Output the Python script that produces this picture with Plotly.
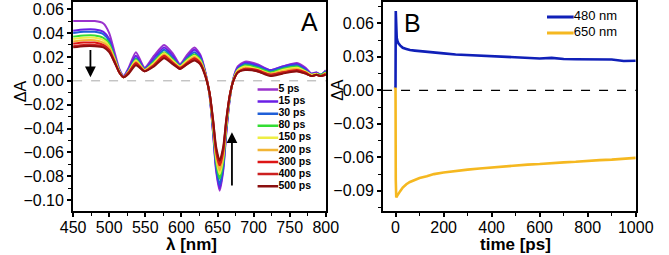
import plotly.graph_objects as go

# ---------------- Panel A data ----------------
wavelength = [450, 465, 480, 492, 500, 507, 514, 520, 527, 537, 549, 562, 576, 588, 598, 608, 618, 626,
              633, 639, 644, 648, 653, 658, 662, 667, 672, 678, 688, 705, 723, 740, 760, 772, 780, 787, 793, 800]

delays = ["5 ps", "15 ps", "30 ps", "80 ps", "150 ps", "200 ps", "300 ps", "400 ps", "500 ps"]
delay_colors = ["#9a32cd", "#6a1fe6", "#1f5fd8", "#33dd33", "#eeee44", "#f2b535", "#dd1515", "#cc2020", "#8b0f0f"]

dA_5ps = [.050, .050, .050, .048, .040, .025, .010, .004, .011, .024, .011, .021, .030, .023, .014, .022, .028, .022,
          .008, -.012, -.045, -.075, -.092, -.075, -.045, -.015, .002, .012, .016, .014, .009, .012, .015, .011, .006, .007, .005, .009]
dA_15ps = [.042, .043, .043, .041, .035, .022, .009, .004, .010, .021, .010, .019, .028, .021, .013, .020, .026, .021,
           .007, -.012, -.044, -.073, -.090, -.073, -.044, -.015, .002, .011, .015, .013, .009, .012, .014, .010, .006, .007, .005, .008]
dA_30ps = [.040, .041, .041, .039, .033, .021, .008, .003, .009, .019, .010, .017, .026, .019, .013, .019, .024, .019,
           .007, -.012, -.042, -.071, -.087, -.071, -.042, -.014, .001, .010, .014, .012, .008, .011, .013, .009, .005, .006, .005, .008]
dA_80ps = [.037, .038, .038, .036, .031, .020, .008, .003, .008, .018, .009, .016, .024, .018, .012, .018, .022, .018,
           .006, -.011, -.040, -.067, -.082, -.067, -.040, -.014, .001, .009, .013, .011, .007, .010, .012, .008, .005, .006, .005, .007]
dA_150ps = [.035, .036, .036, .034, .029, .019, .008, .003, .008, .017, .009, .015, .023, .017, .012, .017, .021, .017,
            .006, -.011, -.038, -.064, -.078, -.064, -.038, -.013, .001, .009, .012, .010, .006, .009, .011, .008, .005, .006, .004, .007]
dA_200ps = [.033, .034, .034, .032, .028, .018, .007, .003, .007, .016, .009, .014, .022, .016, .011, .016, .020, .016,
            .005, -.011, -.037, -.062, -.075, -.062, -.037, -.013, .000, .008, .011, .009, .006, .008, .010, .007, .004, .005, .004, .006]
dA_300ps = [.031, .032, .032, .030, .026, .017, .007, .003, .007, .015, .008, .013, .021, .015, .011, .015, .019, .015,
            .005, -.010, -.035, -.059, -.071, -.059, -.035, -.012, .000, .007, .010, .009, .005, .007, .009, .007, .004, .005, .004, .006]
dA_400ps = [.029, .030, .030, .029, .025, .016, .007, .003, .007, .014, .008, .013, .020, .015, .010, .014, .018, .014,
            .005, -.010, -.034, -.057, -.069, -.057, -.034, -.012, .000, .007, .010, .008, .005, .007, .008, .006, .004, .005, .004, .005]
dA_500ps = [.028, .029, .029, .028, .024, .016, .007, .003, .006, .013, .008, .012, .019, .014, .010, .014, .017, .014,
            .004, -.010, -.033, -.055, -.067, -.055, -.033, -.012, .000, .007, .009, .008, .004, .006, .008, .006, .004, .005, .004, .005]

spectra = [dA_5ps, dA_15ps, dA_30ps, dA_80ps, dA_150ps, dA_200ps, dA_300ps, dA_400ps, dA_500ps]

wl_ticks = [450, 500, 550, 600, 650, 700, 750, 800]
dA_ticks_A = [-0.10, -0.08, -0.06, -0.04, -0.02, 0.00, 0.02, 0.04, 0.06]

# ---------------- Panel B data ----------------
time_ps = [-3, 0, 1, 2, 3, 5, 8, 12, 20, 30, 45, 60, 80, 100, 130, 160, 200, 250, 300, 350, 400,
           450, 500, 550, 600, 650, 700, 750, 800, 850, 900, 950, 1000]
kin_480 = [0.002, 0.003, 0.071, 0.060, 0.052, 0.047, 0.044, 0.042, 0.040, 0.038, 0.037, 0.036, 0.0355, 0.035,
           0.0345, 0.0335, 0.033, 0.032, 0.0315, 0.031, 0.0305, 0.030, 0.0295, 0.029, 0.0285, 0.029, 0.028,
           0.0278, 0.0275, 0.0272, 0.0275, 0.0262, 0.0265]
kin_650 = [0.001, 0.002, -0.080, -0.094, -0.096, -0.095, -0.094, -0.093, -0.090, -0.087, -0.084, -0.082, -0.080,
           -0.0785, -0.077, -0.075, -0.0735, -0.072, -0.071, -0.070, -0.069, -0.068, -0.067, -0.0665, -0.066,
           -0.065, -0.0645, -0.064, -0.063, -0.0625, -0.062, -0.061, -0.0605]
kin_labels = ["480 nm", "650 nm"]
kin_colors = ["#1020b8", "#f5b820"]
time_ticks = [0, 200, 400, 600, 800, 1000]
dA_ticks_B = [-0.09, -0.06, -0.03, 0.00, 0.03, 0.06]

FONT = "Liberation Sans, Arial, sans-serif"

fig = go.Figure()

# Panel A spectra
for name, col, ys in zip(delays, delay_colors, spectra):
    fig.add_trace(go.Scatter(x=wavelength, y=ys, mode="lines", name=name,
                             line=dict(color=col, width=2, shape="spline", smoothing=0.6),
                             xaxis="x", yaxis="y", showlegend=False))

# Panel B kinetics
for name, col, ys in zip(kin_labels, kin_colors, [kin_480, kin_650]):
    fig.add_trace(go.Scatter(x=time_ps, y=ys, mode="lines", name=name,
                             line=dict(color=col, width=2.6),
                             xaxis="x2", yaxis="y2", showlegend=False))

# Legend A (mini axes)
for i, (name, col) in enumerate(zip(delays, delay_colors)):
    fig.add_trace(go.Scatter(x=[0, 1], y=[i, i], mode="lines", line=dict(color=col, width=2.5),
                             xaxis="x3", yaxis="y3", showlegend=False, hoverinfo="skip"))
fig.add_trace(go.Scatter(x=[1.0] * len(delays), y=list(range(len(delays))), mode="text", text=delays,
                         textposition="middle right", cliponaxis=False,
                         textfont=dict(family=FONT, size=10.5, color="black", weight="bold"),
                         xaxis="x3", yaxis="y3", showlegend=False, hoverinfo="skip"))

# Legend B (mini axes)
for i, (name, col) in enumerate(zip(kin_labels, kin_colors)):
    fig.add_trace(go.Scatter(x=[0, 1], y=[i, i], mode="lines", line=dict(color=col, width=3),
                             xaxis="x4", yaxis="y4", showlegend=False, hoverinfo="skip"))
fig.add_trace(go.Scatter(x=[1.0] * len(kin_labels), y=list(range(len(kin_labels))), mode="text", text=kin_labels,
                         textposition="middle right", cliponaxis=False,
                         textfont=dict(family=FONT, size=13, color="black"),
                         xaxis="x4", yaxis="y4", showlegend=False, hoverinfo="skip"))

axis_common = dict(showline=True, linecolor="black", linewidth=2, mirror=True, ticks="outside",
                   ticklen=4, tickwidth=1.5, tickcolor="black", showgrid=False, zeroline=False,
                   tickfont=dict(family=FONT, size=16, color="black"),
                   minor=dict(ticks="outside", ticklen=3, tickwidth=1, tickcolor="black"))

fig.update_layout(
    width=669, height=255, margin=dict(l=0, r=0, t=1, b=44),
    paper_bgcolor="white", plot_bgcolor="white",
    xaxis=dict(domain=[0.0942, 0.4903], range=[450, 800], tickvals=wl_ticks, anchor="y",
               minor_dtick=25, ticklabelstandoff=-3, **axis_common),
    yaxis=dict(domain=[0, 1], range=[-0.109, 0.066], tickvals=dA_ticks_A, tickformat=".2f", anchor="x",
               minor_dtick=0.01, **axis_common),
    xaxis2=dict(domain=[0.5800, 0.9761], range=[-52, 1000], tickvals=time_ticks, anchor="y2",
                minor_dtick=100, ticklabelstandoff=-3, **axis_common),
    yaxis2=dict(domain=[0, 1], range=[-0.108, 0.079], tickvals=dA_ticks_B, tickformat=".2f", anchor="x2",
                minor_dtick=0.015, **axis_common),
    xaxis3=dict(domain=[0.383, 0.416], range=[0, 1], visible=False, anchor="y3"),
    yaxis3=dict(domain=[0.090, 0.610], range=[8.5, -0.5], visible=False, anchor="x3"),
    xaxis4=dict(domain=[0.837, 0.879], range=[0, 1], visible=False, anchor="y4"),
    yaxis4=dict(domain=[0.814, 0.967], range=[1.5, -0.5], visible=False, anchor="x4"),
    shapes=[
        dict(type="line", xref="x domain", yref="y", x0=0, x1=1, y0=0, y1=0,
             line=dict(color="#aaaaaa", width=1, dash="dash"), layer="below"),
        dict(type="line", xref="x2 domain", yref="y2", x0=0, x1=1, y0=0, y1=0,
             line=dict(color="black", width=1.2, dash="dash"), layer="below"),
    ],
    annotations=[
        dict(text="A", xref="paper", yref="paper", x=311 / 669, y=(211 - 21) / 210, showarrow=False,
             font=dict(family=FONT, size=25, color="black"), xanchor="center", yanchor="middle"),
        dict(text="B", xref="paper", yref="paper", x=419 / 669, y=(211 - 22) / 210, showarrow=False,
             font=dict(family=FONT, size=25, color="black"), xanchor="center", yanchor="middle"),
        dict(text="ΔA", xref="paper", yref="paper", x=8 / 669, y=(211 - 91) / 210, showarrow=False,
             textangle=-90, font=dict(family=FONT, size=16, color="black"), xanchor="center", yanchor="middle"),
        dict(text="ΔA", xref="paper", yref="paper", x=340 / 669, y=(211 - 89) / 210, showarrow=False,
             textangle=-90, font=dict(family=FONT, size=16, color="black"), xanchor="center", yanchor="middle"),
        dict(text="<b>λ [nm]</b>", xref="paper", yref="paper", x=187 / 669, y=(211 - 245) / 210, showarrow=False,
             font=dict(family=FONT, size=17, color="black"), xanchor="center", yanchor="middle"),
        dict(text="<b>time [ps]</b>", xref="paper", yref="paper", x=527 / 669, y=(211 - 245) / 210, showarrow=False,
             font=dict(family=FONT, size=17, color="black"), xanchor="center", yanchor="middle"),
        # arrows in panel A
        dict(xref="x", yref="y", x=474, y=0.003, ax=474, ay=0.027, axref="x", ayref="y", text="",
             showarrow=True, arrowhead=2, arrowsize=1.2, arrowwidth=1.8, arrowcolor="black"),
        dict(xref="x", yref="y", x=670, y=-0.043, ax=670, ay=-0.089, axref="x", ayref="y", text="",
             showarrow=True, arrowhead=2, arrowsize=1.2, arrowwidth=1.8, arrowcolor="black"),
    ],
)

fig.write_html("out.html", config={"displayModeBar": False},
               post_script="document.body.style.margin='0px';")
